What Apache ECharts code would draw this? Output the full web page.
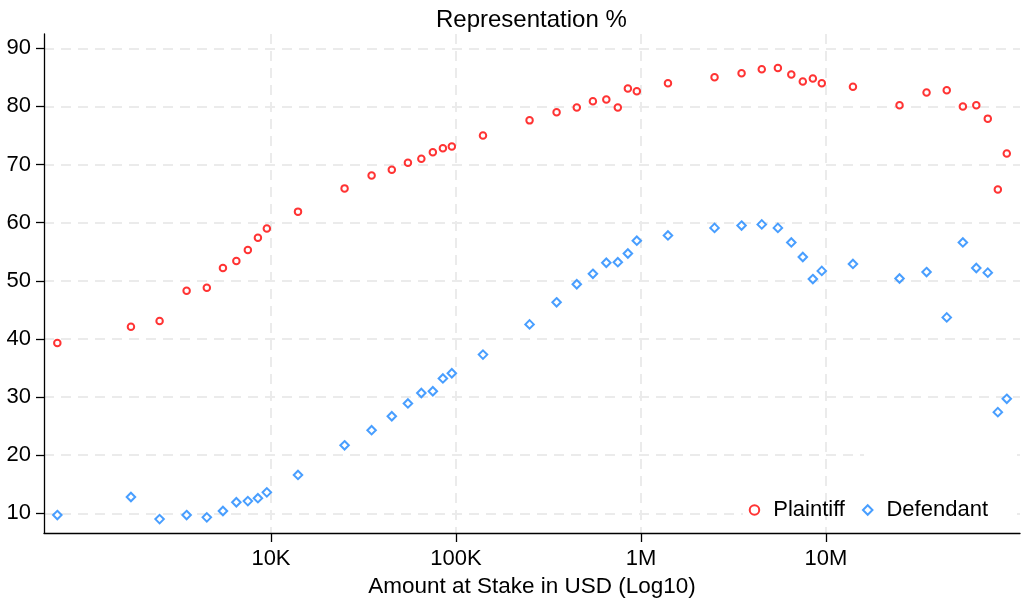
<!DOCTYPE html>
<html>
<head>
<meta charset="utf-8">
<script src="https://cdn.jsdelivr.net/npm/echarts@6/dist/echarts.min.js"></script>
<style>
html,body{margin:0;padding:0;background:#fff;}
#chart{width:1024px;height:604px;}
</style>
</head>
<body>
<div id="chart"></div>
<script>
// Amount at stake (USD), bin positions
const amounts = [700, 1750, 2500, 3500, 4500, 5500, 6500, 7500, 8500, 9500,
  14000, 25000, 35000, 45000, 55000, 65000, 75000, 85000, 95000,
  140000, 250000, 350000, 450000, 550000, 650000, 750000, 850000, 950000,
  1400000, 2500000, 3500000, 4500000, 5500000, 6500000, 7500000, 8500000, 9500000,
  14000000, 25000000, 35000000, 45000000, 55000000, 65000000, 75000000, 85000000, 95000000];

const plaintiff = [39.3, 42.1, 43.1, 48.3, 48.8, 52.2, 53.4, 55.3, 57.4, 59.0,
  61.9, 65.9, 68.1, 69.1, 70.3, 71.0, 72.1, 72.8, 73.1,
  75.0, 77.6, 79.0, 79.8, 80.9, 81.2, 79.8, 83.1, 82.6,
  84.0, 85.0, 85.7, 86.4, 86.6, 85.5, 84.3, 84.8, 84.0,
  83.4, 80.2, 82.4, 82.8, 80.0, 80.2, 77.9, 65.7, 71.9];

const defendant = [9.7, 12.8, 9.0, 9.7, 9.3, 10.4, 11.9, 12.1, 12.6, 13.6,
  16.6, 21.7, 24.3, 26.7, 28.9, 30.7, 31.0, 33.2, 34.1,
  37.3, 42.5, 46.3, 49.4, 51.2, 53.1, 53.2, 54.7, 56.9,
  57.8, 59.1, 59.5, 59.7, 59.1, 56.6, 54.1, 50.3, 51.7,
  52.9, 50.4, 51.5, 43.7, 56.6, 52.2, 51.4, 27.4, 29.7];

const xTickValues = [10000, 100000, 1000000, 10000000];
const xTickLabels = ['10K', '100K', '1M', '10M'];
const yTickValues = [10, 20, 30, 40, 50, 60, 70, 80, 90];

const FONT = '"Liberation Sans", Arial, sans-serif';
const chart = echarts.init(document.getElementById('chart'), null, {renderer: 'canvas'});

const gridLine = {show: true, lineStyle: {color: '#ebebeb', width: 2, type: [10, 7]}};

chart.setOption({
  backgroundColor: '#ffffff',
  animation: false,
  title: {
    text: 'Representation %',
    left: 431, top: 3,
    textStyle: {fontFamily: FONT, fontSize: 24, fontWeight: 'normal', color: '#000'}
  },
  grid: {left: 44, right: 4, top: 34, bottom: 71, containLabel: false},
  legend: {
    data: ['Plaintiff', 'Defendant'],
    right: 31, top: 497,
    itemWidth: 9.5, itemHeight: 9.5, itemGap: 17,
    padding: [2, 5],
    textStyle: {fontFamily: FONT, fontSize: 22, color: '#000', padding: [0, 0, 0, 9]}
  },
  xAxis: {
    type: 'log', logBase: 10,
    min: 593, max: 1.12e8,
    z: 3,
    name: 'Amount at Stake in USD (Log10)',
    nameLocation: 'middle', nameGap: 41,
    nameTextStyle: {fontFamily: FONT, fontSize: 22.5, color: '#000'},
    axisLine: {show: true, onZero: false, lineStyle: {color: '#000', width: 1.3}},
    axisTick: {show: true, length: 9, customValues: xTickValues, lineStyle: {color: '#000', width: 1.3}},
    axisLabel: {
      show: true, margin: 15, customValues: xTickValues,
      fontFamily: FONT, fontSize: 22, color: '#000',
      formatter: function (v) {
        const i = xTickValues.findIndex(t => Math.abs(t - v) / t < 1e-6);
        return i >= 0 ? xTickLabels[i] : '';
      }
    },
    splitLine: gridLine,
    minorTick: {show: false}, minorSplitLine: {show: false}
  },
  yAxis: {
    type: 'value',
    min: 6.61, max: 92.46,
    z: 1,
    axisLine: {show: true, lineStyle: {color: '#000', width: 1.3}},
    axisTick: {show: true, length: 8, customValues: yTickValues, lineStyle: {color: '#000', width: 1.3}},
    axisLabel: {show: true, margin: 13, customValues: yTickValues, fontFamily: FONT, fontSize: 22, color: '#000'},
    splitLine: gridLine
  },
  graphic: [
    {type: 'rect', z: 2, shape: {x: 743, y: 503, width: 274, height: 20}, style: {fill: '#fff'}},
    {type: 'rect', z: 2, shape: {x: 864, y: 448, width: 153, height: 56}, style: {fill: '#fff'}}
  ],
  series: [
    {
      name: 'Plaintiff', type: 'scatter', z: 5,
      symbol: 'emptyCircle', symbolSize: 6.5,
      itemStyle: {color: '#ff0000', borderColor: '#ff0000', borderWidth: 2.1},
      data: amounts.map((a, i) => [a, plaintiff[i]])
    },
    {
      name: 'Defendant', type: 'scatter', z: 5,
      symbol: 'emptyDiamond', symbolSize: 8.5,
      itemStyle: {color: '#1a86ff', borderColor: '#1a86ff', borderWidth: 2.1},
      data: amounts.map((a, i) => [a, defendant[i]])
    }
  ]
});
</script>
</body>
</html>
